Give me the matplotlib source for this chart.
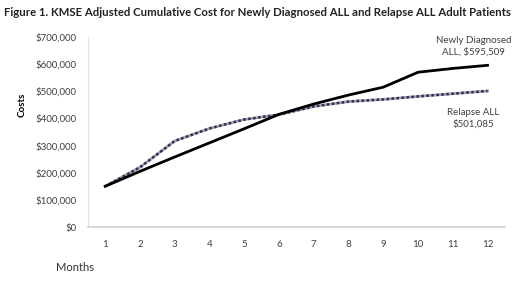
import matplotlib.pyplot as plt
from matplotlib.ticker import FuncFormatter

months = [1, 2, 3, 4, 5, 6, 7, 8, 9, 10, 11, 12]
newly_diagnosed = [150000, 205000, 258000, 310000, 362000, 415000, 453000, 486000, 515000, 570000, 584000, 595509]
relapse = [150000, 220000, 317000, 363000, 396000, 414000, 444000, 462000, 470000, 481000, 491000, 501085]

plt.rcParams['font.family'] = ['Lato', 'DejaVu Sans']

fig = plt.figure(figsize=(5.2, 2.82), dpi=100)
ax = fig.add_axes([0.169, 0.195, 0.802, 0.674])

ax.plot(months, newly_diagnosed, color='black', lw=2.0, zorder=3)
ax.plot(months, relapse, color='#a0a0ae', lw=2.0, zorder=2)
ax.plot(months, relapse, color='#2e2e50', lw=1.8, ls=(0, (1, 1)), zorder=2)

ax.set_xlim(0.5, 12.5)
ax.set_ylim(0, 700000)
ax.set_xticks(months)
ax.set_yticks(range(0, 700001, 100000))
ax.yaxis.set_major_formatter(FuncFormatter(lambda v, p: '${:,.0f}'.format(v)))
ax.tick_params(length=0, labelsize=7, colors='#404040', pad=8)
ax.tick_params(axis='x', pad=9)

for s in ['top', 'right']:
    ax.spines[s].set_visible(False)
ax.spines['left'].set_color('#e0e0e0')
ax.spines['bottom'].set_color('#d0d0d0')
ax.spines['bottom'].set_linewidth(1.2)

ax.text(11.6, 665000, 'Newly Diagnosed\nALL, $595,509', ha='center', va='center',
        fontsize=7, color='#404040', linespacing=1.3)
ax.text(11.6, 400000, 'Relapse ALL\n$501,085', ha='center', va='center',
        fontsize=7, color='#404040', linespacing=1.3)

fig.text(0.042, 0.628, 'Costs', rotation=90, ha='center', va='center',
         fontsize=7, fontweight='bold', color='black')
fig.text(0.145, 0.05, 'Months', ha='center', va='center', fontsize=8, color='#333333')

fig.text(0.008, 0.955, 'Figure 1. KMSE Adjusted Cumulative Cost for Newly Diagnosed ALL and Relapse ALL Adult Patients',
         ha='left', va='center', fontsize=8.2, fontweight='bold', color='#222222')

fig.savefig('out.png', dpi=100)
